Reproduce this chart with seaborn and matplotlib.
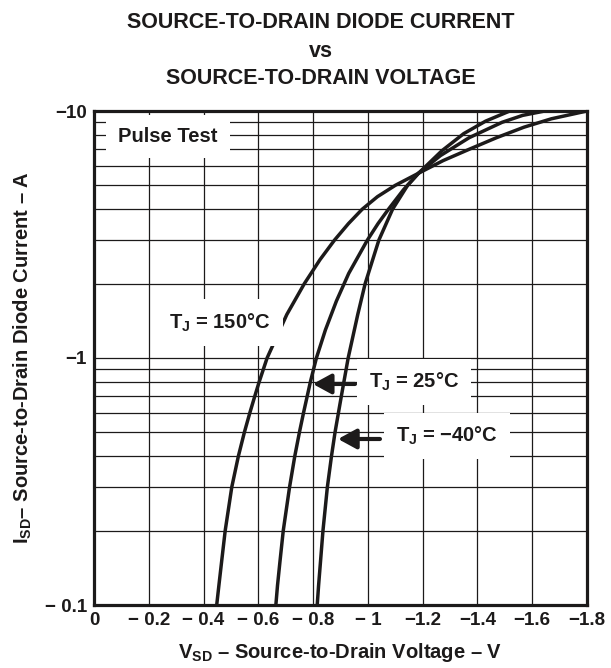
import matplotlib
matplotlib.use("Agg")
import matplotlib.pyplot as plt
import seaborn as sns
import pandas as pd
from matplotlib.ticker import NullFormatter, FixedLocator

# curve data (magnitudes: V in volts, I in amps)
v_150 = [0.448, 0.456, 0.466, 0.479, 0.503, 0.527, 0.549, 0.569, 0.587, 0.603, 0.632, 0.704, 0.768,
         0.825, 0.878, 0.929, 0.979, 1.035, 1.100, 1.185, 1.275, 1.370, 1.470, 1.570, 1.670, 1.800]
i_150 = [0.10, 0.12, 0.15, 0.20, 0.30, 0.40, 0.50, 0.60, 0.70, 0.80, 1.0, 1.5, 2.0,
         2.5, 3.0, 3.5, 4.0, 4.5, 5.0, 5.6, 6.3, 7.0, 7.8, 8.6, 9.3, 10.0]

v_25 = [0.664, 0.670, 0.679, 0.691, 0.714, 0.733, 0.750, 0.765, 0.790, 0.812, 0.845, 0.885, 0.930,
        0.998, 1.037, 1.075, 1.130, 1.185, 1.265, 1.370, 1.490, 1.565, 1.646]
i_25 = [0.10, 0.12, 0.15, 0.20, 0.30, 0.40, 0.50, 0.60, 0.80, 1.0, 1.3, 1.7, 2.2,
        3.0, 3.5, 4.0, 4.8, 5.6, 6.6, 7.8, 9.0, 9.6, 10.0]

v_m40 = [0.815, 0.820, 0.827, 0.836, 0.852, 0.867, 0.880, 0.903, 0.928, 0.963, 0.990, 1.040,
         1.090, 1.145, 1.185, 1.270, 1.350, 1.430, 1.518]
i_m40 = [0.10, 0.12, 0.15, 0.20, 0.30, 0.40, 0.50, 0.70, 1.0, 1.5, 2.0, 3.0,
         4.0, 5.0, 5.6, 6.9, 8.1, 9.1, 10.0]

x_ticks = [0, 0.2, 0.4, 0.6, 0.8, 1.0, 1.2, 1.4, 1.6, 1.8]
x_labels = ["0", "\u2212 0.2", "\u2212 0.4", "\u2212 0.6", "\u2212 0.8", "\u2212 1",
            "\u22121.2", "\u22121.4", "\u22121.6", "\u22121.8"]
y_ticks = [0.1, 1, 10]
y_labels = ["\u2212 0.1", "\u22121", "\u221210"]
y_minor = [0.2, 0.3, 0.4, 0.5, 0.6, 0.7, 0.8, 0.9, 2, 3, 4, 5, 6, 7, 8, 9]

df = pd.concat([
    pd.DataFrame({"V": v_150, "I": i_150, "Tj": "150"}),
    pd.DataFrame({"V": v_25, "I": i_25, "Tj": "25"}),
    pd.DataFrame({"V": v_m40, "I": i_m40, "Tj": "-40"}),
])

sns.set_style("white")
plt.rcParams["font.family"] = ["Liberation Sans", "DejaVu Sans"]
plt.rcParams["font.weight"] = "bold"
plt.rcParams["axes.labelweight"] = "bold"
plt.rcParams["mathtext.fontset"] = "custom"
plt.rcParams["mathtext.rm"] = "Liberation Sans:bold"
plt.rcParams["mathtext.bf"] = "Liberation Sans:bold"
plt.rcParams["mathtext.it"] = "Liberation Sans:bold"
plt.rcParams["mathtext.default"] = "rm"

ink = "#1c1a1a"

fig = plt.figure(figsize=(6.11, 6.68), dpi=100)
ax = fig.add_axes([94 / 611, 1 - 605 / 668, 493 / 611, 494 / 668])

sns.lineplot(data=df, x="V", y="I", units="Tj", estimator=None, sort=False,
             color=ink, lw=2.5, ax=ax, legend=False, zorder=2)

ax.set_yscale("log")
ax.set_xlim(0, 1.8)
ax.set_ylim(0.1, 10)
ax.set_xticks(x_ticks)
ax.set_xticklabels(x_labels, fontweight="bold", fontsize=13.5)
ax.set_yticks(y_ticks)
ax.set_yticklabels(y_labels, fontweight="bold", fontsize=13.5)
ax.yaxis.set_minor_locator(FixedLocator(y_minor))
ax.yaxis.set_minor_formatter(NullFormatter())
ax.tick_params(which="both", length=0, colors=ink)
ax.tick_params(axis="x", pad=5)
ax.tick_params(axis="y", pad=5)
ax.grid(which="both", color=ink, lw=0.9)
ax.set_axisbelow(True)
for s in ax.spines.values():
    s.set_linewidth(2.3)
    s.set_color(ink)

ax.set_xlabel("V$_{SD}$ \u2013 Source-to-Drain Voltage \u2013 V", fontsize=14.5, labelpad=9, color=ink)
ax.set_ylabel("I$_{SD}$\u2013 Source-to-Drain Diode Current \u2013 A", fontsize=14.5, labelpad=8, color=ink)

tx = 321 / 611
fig.text(tx, 1 - 28 / 668, "SOURCE-TO-DRAIN DIODE CURRENT", ha="center", va="baseline",
         fontsize=15.5, fontweight="bold", color=ink)
fig.text(tx, 1 - 57 / 668, "vs", ha="center", va="baseline", fontsize=15.5, fontweight="bold", color=ink)
fig.text(tx, 1 - 84 / 668, "SOURCE-TO-DRAIN VOLTAGE", ha="center", va="baseline",
         fontsize=15.5, fontweight="bold", color=ink)

box = dict(boxstyle="square,pad=0.6", fc="white", ec="none")
ax.text(0.270, 7.9, "Pulse Test", fontsize=14.5, ha="center", va="center", bbox=box, zorder=3, color=ink)
ax.text(0.460, 1.39, "T$_J$ = 150\u00b0C", fontsize=14.5, ha="center", va="center", bbox=box, zorder=3, color=ink)
ax.text(1.168, 0.80, "T$_J$ = 25\u00b0C", fontsize=14.5, ha="center", va="center", bbox=box, zorder=3, color=ink)
ax.text(1.288, 0.483, "T$_J$ = \u221240\u00b0C", fontsize=14.5, ha="center", va="center", bbox=box, zorder=3, color=ink)

arrow = dict(arrowstyle="-|>,head_length=0.55,head_width=0.3", color=ink, lw=3,
             mutation_scale=20, shrinkA=0, shrinkB=0)
ax.annotate("", xy=(0.799, 0.785), xytext=(0.953, 0.785), arrowprops=arrow, zorder=4)
ax.annotate("", xy=(0.891, 0.470), xytext=(1.044, 0.470), arrowprops=arrow, zorder=4)

fig.savefig("out.png", dpi=100)
